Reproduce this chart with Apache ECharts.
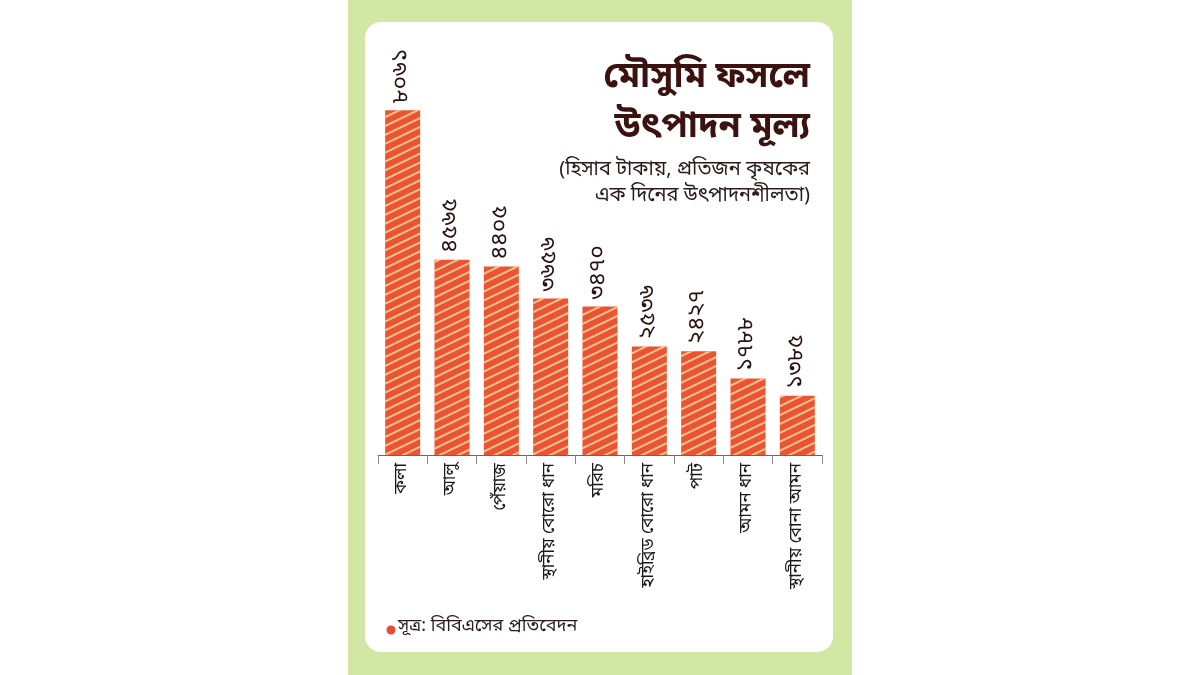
<!DOCTYPE html>
<html>
<head>
<meta charset="utf-8">
<script src="https://cdn.jsdelivr.net/npm/echarts@6/dist/echarts.min.js"></script>
<style>
html,body{margin:0;padding:0;background:#ffffff;}
#main{width:1200px;height:675px;}
</style>
</head>
<body>
<div id="main"></div>
<script>
const categories = ['কলা','আলু','পেঁয়াজ','স্থানীয় বোরো ধান','মরিচ','হাইব্রিড বোরো ধান','পাট','আমন ধান','স্থানীয় বোনা আমন'];
const values = [8061, 4565, 4405, 3656, 3470, 2536, 2427, 1788, 1385];
const valueLabels = ['৮০৬১','৪৫৬৫','৪৪০৫','৩৬৫৬','৩৪৭০','২৫৩৬','২৪২৭','১৭৮৮','১৩৮৫'];
const titleLines = ['মৌসুমি ফসলে','উৎপাদন মূল্য'];
const subtitleLines = ['(হিসাব টাকায়, প্রতিজন কৃষকের','এক দিনের উৎপাদনশীলতা)'];
const sourceText = 'সূত্র: বিবিএসের প্রতিবেদন';

const FONT = '"Noto Sans Bengali","Noto Serif Bengali","Lohit Bengali","FreeSans","Noto Sans",sans-serif';
const chart = echarts.init(document.getElementById('main'), null, {renderer:'canvas'});
chart.setOption({
  backgroundColor: '#ffffff',
  animation: false,
  textStyle: {fontFamily: FONT},
  graphic: [
    {type:'rect', z:-10, shape:{x:348,y:0,width:504,height:675}, style:{fill:'#d3e7a4'}},
    {type:'rect', z:-9, shape:{x:365,y:22,width:468,height:630,r:16}, style:{fill:'#ffffff'}},
    {type:'text', right: 390, top: 55, style:{text:titleLines.join('\n'), font:'bold 36px '+FONT, fill:'#3b1210', textAlign:'right', lineHeight:50}},
    {type:'text', right: 390, top: 158, style:{text:subtitleLines.join('\n'), font:'20px '+FONT, fill:'#2a1a1a', textAlign:'right', lineHeight:26}},
    {type:'circle', shape:{cx:391,cy:630,r:4.5}, style:{fill:'#e84a33'}},
    {type:'text', left: 398, top: 619, style:{text:sourceText, font:'18px '+FONT, fill:'#2a1a1a'}}
  ],
  grid: {left: 378, right: 378, top: 70, bottom: 220, containLabel: false},
  xAxis: {
    type: 'category',
    data: categories,
    axisLine: {show:true, lineStyle:{color:'#666666', width:1}},
    axisTick: {show:true, inside:false, length:9, lineStyle:{color:'#888888'}},
    axisLabel: {rotate: 90, color:'#1a1a1a', fontSize: 17, fontFamily: FONT, margin: 8, interval: 0}
  },
  yAxis: {
    type: 'value', min: 0, max: 9000,
    show: false, splitLine:{show:false}
  },
  series: [{
    type: 'bar',
    data: values,
    barWidth: 35,
    itemStyle: {
      color: '#ea5433',
      decal: {
        symbol: 'rect',
        color: 'rgba(255,214,160,0.85)',
        dashArrayX: [1, 0],
        dashArrayY: [2, 6],
        rotation: -0.45
      }
    },
    label: {
      show: true,
      position: 'top',
      rotate: 90,
      align: 'left',
      verticalAlign: 'middle',
      distance: 7,
      fontSize: 23,
      color: '#2a1010',
      fontFamily: FONT,
      formatter: p => valueLabels[p.dataIndex]
    }
  }]
});
</script>
</body>
</html>
